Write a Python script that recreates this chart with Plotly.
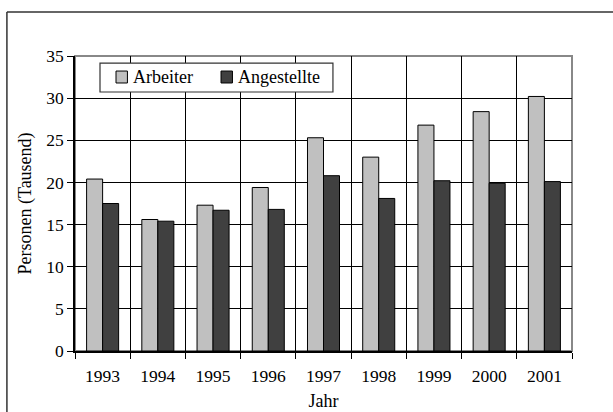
import plotly.graph_objects as go

jahre = ['1993', '1994', '1995', '1996', '1997', '1998', '1999', '2000', '2001']
arbeiter = [20.4, 15.6, 17.3, 19.4, 25.3, 23.0, 26.8, 28.4, 30.2]
angestellte = [17.5, 15.4, 16.7, 16.8, 20.8, 18.1, 20.2, 19.9, 20.1]

farbe_arbeiter = '#c0c0c0'
farbe_angestellte = '#404040'

schrift = dict(family='Liberation Serif', size=17.5, color='black')

fig = go.Figure()
fig.add_trace(go.Bar(x=jahre, y=arbeiter, name='Arbeiter',
                     marker=dict(color=farbe_arbeiter, line=dict(color='black', width=1))))
fig.add_trace(go.Bar(x=jahre, y=angestellte, name='Angestellte',
                     marker=dict(color=farbe_angestellte, line=dict(color='black', width=1))))

# Rahmen um das Diagramm (grau)
fig.add_shape(type='rect', xref='paper', yref='paper', x0=0, x1=1, y0=0, y1=1,
              line=dict(color='#888888', width=2), layer='below')
# Rahmen um die ganze Grafik (nur links und oben sichtbar)
fig.add_shape(type='line', xref='paper', yref='paper', x0=-0.137, x1=-0.137, y0=-0.3, y1=1.149,
              line=dict(color='#333333', width=1.5))
fig.add_shape(type='line', xref='paper', yref='paper', x0=-0.137, x1=1.2, y0=1.149, y1=1.149,
              line=dict(color='#333333', width=1.5))

# Legende von Hand (flacher als die Plotly-Legende)
fig.add_shape(type='rect', xref='paper', yref='paper', x0=0.0503, x1=0.519, y0=0.878, y1=0.976,
              fillcolor='white', line=dict(color='#333333', width=1.2))
for x0, farbe, name in [(0.0825, farbe_arbeiter, 'Arbeiter'), (0.2938, farbe_angestellte, 'Angestellte')]:
    fig.add_shape(type='rect', xref='paper', yref='paper', x0=x0, x1=x0 + 0.023, y0=0.9085, y1=0.949,
                  fillcolor=farbe, line=dict(color='black', width=1))
    fig.add_annotation(xref='paper', yref='paper', x=x0 + 0.03, y=0.928, text=name,
                       xanchor='left', yanchor='middle', showarrow=False,
                       font=dict(family='Liberation Serif', size=18, color='black'))

fig.update_layout(
    width=613, height=412,
    margin=dict(l=75, r=41, t=56, b=61),
    paper_bgcolor='white', plot_bgcolor='white',
    font=schrift, showlegend=False,
    barmode='group', bargap=0.42, bargroupgap=0,
    xaxis=dict(title=dict(text='Jahr', standoff=10, font=dict(family='Liberation Serif', size=18)),
               tickson='boundaries', ticks='outside', ticklen=6, tickcolor='black',
               tickfont=schrift, ticklabelstandoff=8, automargin=False,
               showgrid=True, gridcolor='black', gridwidth=1,
               showline=True, linecolor='black', linewidth=1.5),
    yaxis=dict(title=dict(text='Personen (Tausend)', standoff=10, font=dict(family='Liberation Serif', size=18)),
               range=[0, 35], dtick=5, ticks='outside', ticklen=6, tickcolor='black',
               tickfont=schrift, automargin=False,
               showgrid=True, gridcolor='black', gridwidth=1,
               showline=True, linecolor='black', linewidth=1.5, zeroline=False),
)

fig.write_html('out.html', config={'displayModeBar': False},
               post_script="document.body.style.margin='0'; document.documentElement.style.overflow='hidden'; document.body.style.overflow='hidden';")
